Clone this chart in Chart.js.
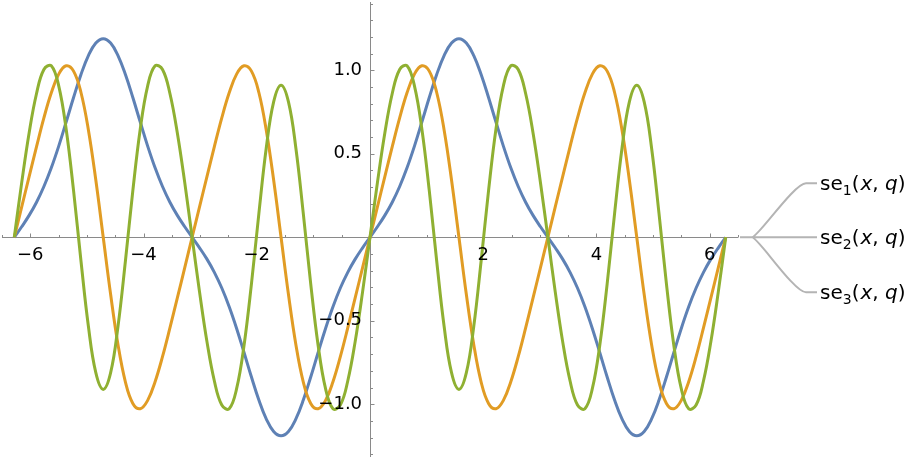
<!DOCTYPE html>
<html>
<head>
<meta charset="utf-8">
<title>Mathieu se functions</title>
<script src="https://cdn.jsdelivr.net/npm/chart.js@4.4.0/dist/chart.umd.min.js"></script>
<style>
  body { margin: 0; background: #fff; }
  #wrap { width: 918px; height: 460px; }
</style>
</head>
<body>
<div id="wrap"><canvas id="chart"></canvas></div>
<script>
// x samples from -2pi to 2pi
const xValues = [
  -6.283, -6.152, -6.021, -5.890, -5.760, -5.629, -5.498, -5.367, -5.236, -5.105, -4.974, -4.843,
  -4.712, -4.581, -4.451, -4.320, -4.189, -4.058, -3.927, -3.796, -3.665, -3.534, -3.403, -3.272,
  -3.142, -3.011, -2.880, -2.749, -2.618, -2.487, -2.356, -2.225, -2.094, -1.963, -1.833, -1.702,
  -1.571, -1.440, -1.309, -1.178, -1.047, -0.916, -0.785, -0.654, -0.524, -0.393, -0.262, -0.131,
  0, 0.131, 0.262, 0.393, 0.524, 0.654, 0.785, 0.916, 1.047, 1.178, 1.309, 1.440,
  1.571, 1.702, 1.833, 1.963, 2.094, 2.225, 2.356, 2.487, 2.618, 2.749, 2.880, 3.011,
  3.142, 3.272, 3.403, 3.534, 3.665, 3.796, 3.927, 4.058, 4.189, 4.320, 4.451, 4.581,
  4.712, 4.843, 4.974, 5.105, 5.236, 5.367, 5.498, 5.629, 5.760, 5.890, 6.021, 6.152,
  6.283
];

const se1 = [
  0, 0.063, 0.131, 0.210, 0.304, 0.416, 0.546, 0.690, 0.837, 0.975, 1.088, 1.163,
  1.189, 1.163, 1.088, 0.975, 0.837, 0.690, 0.546, 0.416, 0.304, 0.210, 0.131, 0.063,
  0, -0.063, -0.131, -0.210, -0.304, -0.416, -0.546, -0.690, -0.837, -0.975, -1.088, -1.163,
  -1.189, -1.163, -1.088, -0.975, -0.837, -0.690, -0.546, -0.416, -0.304, -0.210, -0.131, -0.063,
  0, 0.063, 0.131, 0.210, 0.304, 0.416, 0.546, 0.690, 0.837, 0.975, 1.088, 1.163,
  1.189, 1.163, 1.088, 0.975, 0.837, 0.690, 0.546, 0.416, 0.304, 0.210, 0.131, 0.063,
  0, -0.063, -0.131, -0.210, -0.304, -0.416, -0.546, -0.690, -0.837, -0.975, -1.088, -1.163,
  -1.189, -1.163, -1.088, -0.975, -0.837, -0.690, -0.546, -0.416, -0.304, -0.210, -0.131, -0.063,
  0
];

const se2 = [
  0, 0.182, 0.363, 0.543, 0.715, 0.865, 0.977, 1.027, 0.995, 0.867, 0.643, 0.343,
  0, -0.343, -0.643, -0.867, -0.995, -1.027, -0.977, -0.865, -0.715, -0.543, -0.363, -0.182,
  0, 0.182, 0.363, 0.543, 0.715, 0.865, 0.977, 1.027, 0.995, 0.867, 0.643, 0.343,
  0, -0.343, -0.643, -0.867, -0.995, -1.027, -0.977, -0.865, -0.715, -0.543, -0.363, -0.182,
  0, 0.182, 0.363, 0.543, 0.715, 0.865, 0.977, 1.027, 0.995, 0.867, 0.643, 0.343,
  0, -0.343, -0.643, -0.867, -0.995, -1.027, -0.977, -0.865, -0.715, -0.543, -0.363, -0.182,
  0, 0.182, 0.363, 0.543, 0.715, 0.865, 0.977, 1.027, 0.995, 0.867, 0.643, 0.343,
  0, -0.343, -0.643, -0.867, -0.995, -1.027, -0.977, -0.865, -0.715, -0.543, -0.363, -0.182,
  0
];

const se3 = [
  0, 0.327, 0.625, 0.861, 1.005, 1.027, 0.907, 0.648, 0.279, -0.142, -0.533, -0.811,
  -0.911, -0.811, -0.533, -0.142, 0.279, 0.648, 0.907, 1.027, 1.005, 0.861, 0.625, 0.327,
  0, -0.327, -0.625, -0.861, -1.005, -1.027, -0.907, -0.648, -0.279, 0.142, 0.533, 0.811,
  0.911, 0.811, 0.533, 0.142, -0.279, -0.648, -0.907, -1.027, -1.005, -0.861, -0.625, -0.327,
  0, 0.327, 0.625, 0.861, 1.005, 1.027, 0.907, 0.648, 0.279, -0.142, -0.533, -0.811,
  -0.911, -0.811, -0.533, -0.142, 0.279, 0.648, 0.907, 1.027, 1.005, 0.861, 0.625, 0.327,
  0, -0.327, -0.625, -0.861, -1.005, -1.027, -0.907, -0.648, -0.279, 0.142, 0.533, 0.811,
  0.911, 0.811, 0.533, 0.142, -0.279, -0.648, -0.907, -1.027, -1.005, -0.861, -0.625, -0.327,
  0
];

const seriesIndex = ["1", "2", "3"];
const seriesColors = ["#5e81b5", "#e19c24", "#8fb032"];
const xTicks = [-6, -4, -2, 2, 4, 6];
const yTicks = [-1.0, -0.5, 0.5, 1.0];
const xMin = -6.5, xMax = 6.5;
const yMin = -1.316, yMax = 1.409;

const axisColor = "#8a8a8a";
const fontFamily = "'DejaVu Sans', sans-serif";

const toPoints = ys => xValues.map((x, i) => ({ x: x, y: ys[i] }));
const minus = v => (v < 0 ? "\u2212" : "");

// axes through the origin with Mathematica style tick marks
const axesPlugin = {
    id: "axes",
    beforeDatasetsDraw(chart) {
        const { ctx, scales: { x, y } } = chart;
        const x0 = Math.round(x.getPixelForValue(0)) + 0.5;
        const y0 = Math.round(y.getPixelForValue(0)) + 0.5;
        ctx.save();
        ctx.strokeStyle = axisColor;
        ctx.lineWidth = 1;
        ctx.beginPath();
        ctx.moveTo(x.left, y0);
        ctx.lineTo(x.right, y0);
        ctx.moveTo(x0, y.top);
        ctx.lineTo(x0, y.bottom);
        // x ticks every 0.5
        for (let i = -13; i <= 13; i++) {
            if (i === 0) continue;
            const px = Math.round(x.getPixelForValue(i * 0.5)) + 0.5;
            const len = i % 4 === 0 ? 4 : 2.5;
            ctx.moveTo(px, y0);
            ctx.lineTo(px, y0 - len);
        }
        // y ticks every 0.1
        for (let j = -13; j <= 14; j++) {
            if (j === 0) continue;
            const py = Math.round(y.getPixelForValue(j * 0.1)) + 0.5;
            const len = j % 5 === 0 ? 4 : 2.5;
            ctx.moveTo(x0, py);
            ctx.lineTo(x0 + len, py);
        }
        ctx.stroke();
        ctx.restore();
    }
};

// fan-shaped labels on the right
const fanLegendPlugin = {
    id: "fanLegend",
    afterDraw(chart) {
        const { ctx, scales: { x, y } } = chart;
        const y0 = y.getPixelForValue(0);
        const fx = x.right + 14;
        const ends = [y0 - 54, y0, y0 + 55];
        ctx.save();
        ctx.strokeStyle = "#b4b4b4";
        ctx.lineWidth = 2;
        ctx.beginPath();
        ctx.moveTo(x.right + 2, y0);
        ctx.lineTo(fx, y0);
        ends.forEach(ey => {
            ctx.moveTo(fx, y0);
            ctx.bezierCurveTo(fx + 6, y0, fx + 42, ey, fx + 54, ey);
            ctx.lineTo(fx + 65, ey);
        });
        ctx.stroke();

        ctx.fillStyle = "#000";
        ctx.textBaseline = "alphabetic";
        const normal = "20px " + fontFamily;
        const italic = "italic 20px " + fontFamily;
        const sub = "14px " + fontFamily;
        ends.forEach((ey, i) => {
            const parts = [
                ["se", normal, 0],
                [seriesIndex[i], sub, 5],
                ["(", normal, 0],
                ["x", italic, 0],
                [", ", normal, 0],
                ["q", italic, 0],
                [")", normal, 0]
            ];
            let tx = fx + 68;
            const base = ey + 7;
            parts.forEach(([t, f, dy]) => {
                ctx.font = f;
                ctx.fillText(t, tx, base + dy);
                tx += ctx.measureText(t).width + (t === "(" ? 1 : 0);
            });
        });
        ctx.restore();
    }
};

const makeDataset = (ys, i) => ({
    label: "se" + seriesIndex[i],
    data: toPoints(ys),
    borderColor: seriesColors[i],
    borderWidth: 3,
    pointRadius: 0,
    tension: 0.4,
    fill: false,
    order: 3 - i
});

new Chart(document.getElementById("chart"), {
    type: "line",
    data: {
        datasets: [makeDataset(se1, 0), makeDataset(se2, 1), makeDataset(se3, 2)]
    },
    options: {
        responsive: true,
        maintainAspectRatio: false,
        animation: false,
        layout: { padding: { left: 2, right: 180, top: 2, bottom: 3 } },
        plugins: { legend: { display: false }, tooltip: { enabled: false } },
        scales: {
            x: {
                type: "linear",
                min: xMin,
                max: xMax,
                position: { y: 0 },
                grid: { display: false, drawTicks: false },
                border: { display: false },
                afterBuildTicks: s => { s.ticks = xTicks.map(v => ({ value: v })); },
                afterFit: s => { s.paddingLeft = 0; s.paddingRight = 0; },
                ticks: {
                    z: 1,
                    color: "#000",
                    font: { family: fontFamily, size: 18 },
                    padding: 7,
                    maxRotation: 0,
                    autoSkip: false,
                    callback: v => minus(v) + Math.abs(v)
                }
            },
            y: {
                type: "linear",
                min: yMin,
                max: yMax,
                // labels sit just left of the x = 0 axis line
                position: { x: -0.14 },
                grid: { display: false, drawTicks: false },
                border: { display: false },
                afterBuildTicks: s => { s.ticks = yTicks.map(v => ({ value: v })); },
                afterFit: s => { s.paddingTop = 0; s.paddingBottom = 0; },
                ticks: {
                    z: 1,
                    color: "#000",
                    font: { family: fontFamily, size: 18 },
                    padding: 8,
                    autoSkip: false,
                    callback: v => minus(v) + Math.abs(v).toFixed(1)
                }
            }
        }
    },
    plugins: [axesPlugin, fanLegendPlugin]
});
</script>
</body>
</html>
